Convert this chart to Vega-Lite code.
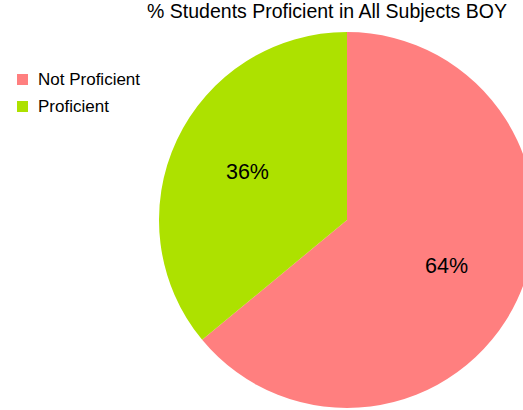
{
  "$schema": "https://vega.github.io/schema/vega-lite/v6.json",
  "width": 352,
  "height": 376,
  "autosize": "none",
  "padding": {"left": 171, "top": 32, "right": 0, "bottom": 0},
  "background": "white",
  "config": {"view": {"stroke": null}, "font": "Liberation Sans"},
  "title": {
    "text": "% Students Proficient in All Subjects BOY",
    "font": "Liberation Sans",
    "fontSize": 19.5,
    "fontWeight": "normal",
    "color": "black",
    "anchor": "middle",
    "dx": -20,
    "offset": 10
  },
  "data": {
    "values": [
      {"status": "Not Proficient", "pct": 64, "label": "64%"},
      {"status": "Proficient", "pct": 36, "label": "36%"}
    ]
  },
  "encoding": {
    "theta": {"field": "pct", "type": "quantitative", "stack": true},
    "order": {"field": "status", "type": "nominal", "sort": "ascending"}
  },
  "layer": [
    {
      "mark": {"type": "arc", "outerRadius": 188},
      "encoding": {
        "color": {
          "field": "status",
          "type": "nominal",
          "scale": {"domain": ["Not Proficient", "Proficient"], "range": ["#FF7F7F", "#ADE100"]},
          "legend": {
            "title": null,
            "orient": "none",
            "legendX": -157,
            "legendY": 39,
            "symbolType": "square",
            "symbolSize": 121,
            "symbolStrokeWidth": 0,
            "labelFontSize": 17,
            "labelFont": "Liberation Sans",
            "labelColor": "black",
            "labelOffset": 7,
            "rowPadding": 9
          }
        }
      }
    },
    {
      "mark": {"type": "text", "radius": 110, "fontSize": 21.5, "font": "Liberation Sans", "color": "black"},
      "encoding": {"text": {"field": "label", "type": "nominal"}}
    }
  ]
}
